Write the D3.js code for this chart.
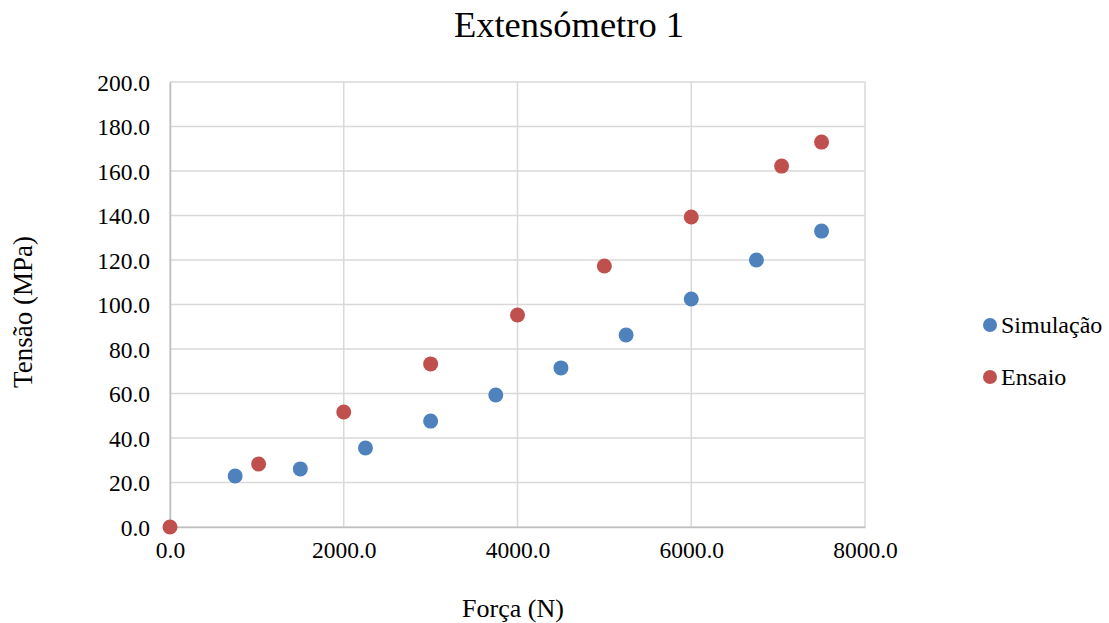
<!DOCTYPE html>
<html>
<head>
<meta charset="utf-8">
<script src="https://cdn.jsdelivr.net/npm/d3@7"></script>
<style>
  html, body { margin: 0; padding: 0; background: #fff; }
  svg { display: block; }
  svg text { font-family: "Liberation Serif", "Times New Roman", serif; fill: #000; }
</style>
</head>
<body>
<svg id="chart" width="1109" height="623"></svg>
<script>
// Simulated stress (Simulação)
const simForce = [750, 1500, 2250, 3000, 3750, 4500, 5250, 6000, 6750, 7500];
const simStress = [22.9, 26.1, 35.5, 47.6, 59.3, 71.5, 86.3, 102.5, 120.0, 133.0];

// Measured stress (Ensaio)
const testForce = [0, 1020, 2000, 3000, 4000, 5000, 6000, 7040, 7500];
const testStress = [0, 28.3, 51.7, 73.3, 95.3, 117.3, 139.3, 162.2, 173.0];

const xTicks = [0, 2000, 4000, 6000, 8000];
const yTicks = [0, 20, 40, 60, 80, 100, 120, 140, 160, 180, 200];

const seriesNames = ["Simulação", "Ensaio"];
const seriesColors = ["#4f81bd", "#c0504d"];

const svg = d3.select("#chart");
const plotLeft = 170, plotRight = 865, plotTop = 82, plotBottom = 527;

const x = d3.scaleLinear().domain([0, 8000]).range([plotLeft, plotRight]);
const y = d3.scaleLinear().domain([0, 200]).range([plotBottom, plotTop]);

// Title
svg.append("text")
  .attr("x", 569).attr("y", 37)
  .attr("text-anchor", "middle")
  .style("font-size", "36.5px")
  .text("Extensómetro 1");

// Gridlines
const grid = svg.append("g");
grid.selectAll("line.h").data(yTicks).join("line")
  .attr("class", "h")
  .attr("x1", plotLeft).attr("x2", plotRight)
  .attr("y1", d => y(d)).attr("y2", d => y(d))
  .attr("stroke", "#d9d9d9").attr("stroke-width", 1.5);
grid.selectAll("line.v").data(xTicks).join("line")
  .attr("class", "v")
  .attr("y1", plotTop).attr("y2", plotBottom)
  .attr("x1", d => x(d)).attr("x2", d => x(d))
  .attr("stroke", "#d9d9d9").attr("stroke-width", 1.5);

// Axes
const xAxis = svg.append("g")
  .attr("transform", `translate(0,${plotBottom})`)
  .call(d3.axisBottom(x).tickValues(xTicks).tickSize(0).tickPadding(14).tickFormat(d3.format(".1f")));
const yAxis = svg.append("g")
  .attr("transform", `translate(${plotLeft},0)`)
  .call(d3.axisLeft(y).tickValues(yTicks).tickSize(0).tickPadding(20).tickFormat(d3.format(".1f")));

[xAxis, yAxis].forEach(g => {
  g.attr("font-family", null).attr("font-size", null);
  g.select(".domain").attr("stroke", "#bfbfbf").attr("stroke-width", 1.5);
  g.selectAll("text").style("font-size", "23.5px");
});
yAxis.selectAll("text").attr("dy", "0.34em");

// Axis titles
svg.append("text")
  .attr("x", 513).attr("y", 617)
  .attr("text-anchor", "middle")
  .style("font-size", "26px")
  .text("Força (N)");
svg.append("text")
  .attr("transform", "translate(32,312) rotate(-90)")
  .attr("text-anchor", "middle")
  .style("font-size", "27px")
  .text("Tensão (MPa)");

// Points
const series = [
  { name: seriesNames[0], color: seriesColors[0], xs: simForce, ys: simStress },
  { name: seriesNames[1], color: seriesColors[1], xs: testForce, ys: testStress }
];
series.forEach(s => {
  svg.append("g").selectAll("circle")
    .data(s.xs.map((v, i) => [v, s.ys[i]]))
    .join("circle")
    .attr("cx", d => x(d[0]))
    .attr("cy", d => y(d[1]))
    .attr("r", 7.5)
    .attr("fill", s.color);
});

// Legend
const legend = svg.append("g");
series.forEach((s, i) => {
  const ly = 325 + i * 52;
  legend.append("circle").attr("cx", 990).attr("cy", ly).attr("r", 7).attr("fill", s.color);
  legend.append("text").attr("x", 1001).attr("y", ly + 8)
    .style("font-size", "24px").text(s.name);
});
</script>
</body>
</html>
